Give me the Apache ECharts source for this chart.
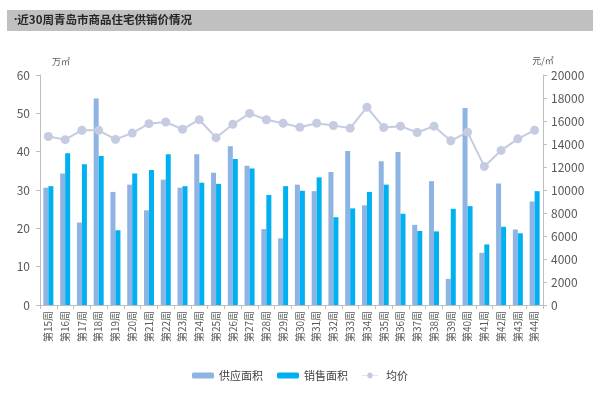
<!DOCTYPE html>
<html><head><meta charset="utf-8">
<script src="https://cdn.jsdelivr.net/npm/echarts@6/dist/echarts.min.js"></script>
<style>html,body{margin:0;padding:0;background:#fff}#c{width:600px;height:394px}</style>
</head><body><div id="c"></div>
<script>
var weeks = [15,16,17,18,19,20,21,22,23,24,25,26,27,28,29,30,31,32,33,34,35,36,37,38,39,40,41,42,43,44];
var categories = weeks.map(function(w){return '第' + w + '周';});
var supply = [30.6,34.3,21.5,53.9,29.5,31.4,24.7,32.7,30.6,39.3,34.5,41.4,36.3,19.8,17.4,31.4,29.7,34.7,40.2,26.0,37.5,39.9,20.9,32.3,6.8,51.4,13.6,31.7,19.7,27.0];
var sales = [31.0,39.6,36.7,38.9,19.5,34.3,35.2,39.3,31.0,31.9,31.6,38.1,35.6,28.7,31.0,29.8,33.3,22.9,25.2,29.5,31.4,23.8,19.3,19.2,25.1,25.8,15.8,20.4,18.7,29.7];
var price = [14650,14380,15200,15190,14400,14950,15770,15910,15280,16110,14550,15710,16660,16110,15800,15450,15810,15610,15380,17200,15430,15550,15000,15550,14280,15030,12050,13440,14450,15200];
var leftTicks = {min:0, max:60, interval:10};
var rightTicks = {min:0, max:20000, interval:2000};

var chart = echarts.init(document.getElementById('c'));
var axisCol = '#bfbfbf', labelCol = '#595959';
chart.setOption({
  animation:false,
  textStyle:{fontFamily:'"Noto Sans CJK SC", "Noto Sans", sans-serif'},
  graphic:[
    {type:'rect', shape:{x:7,y:10,width:586,height:21}, style:{fill:'#c0c0c0'}},
    {type:'text', left:14, top:14, style:{
      text:'{d|·}{t|近30周青岛市商品住宅供销价情况}',
      rich:{
        d:{fill:'#262626', font:'bold 12px "Noto Sans", sans-serif'},
        t:{fill:'#262626', font:'bold 11.5px "Noto Sans CJK SC", sans-serif'}
      }}}
  ],
  grid:{left:40, right:57, top:75, bottom:89},
  legend:{
    bottom:8, left:'center', itemWidth:22, itemHeight:6, itemGap:14,
    textStyle:{color:'#404040', fontSize:11},
    data:[{name:'供应面积'},{name:'销售面积'},{name:'均价', icon:'path://M0,4 L8,4 A4,4 0 1,1 16,4 L24,4 L24,5 L16,5 A4,4 0 1,1 8,5 L0,5 Z', itemStyle:{color:'#c5cbe0'}}]
  },
  xAxis:{
    type:'category', data:categories,
    axisLine:{lineStyle:{color:axisCol}},
    axisTick:{show:true, alignWithLabel:false, length:4, lineStyle:{color:axisCol}},
    axisLabel:{rotate:90, color:labelCol, fontSize:10, interval:0, margin:6}
  },
  yAxis:[
    {type:'value', min:leftTicks.min, max:leftTicks.max, interval:leftTicks.interval,
     name:'万㎡', nameTextStyle:{color:labelCol, fontSize:9, padding:[0,0,0,42]}, nameGap:9,
     axisLine:{show:true, lineStyle:{color:axisCol}},
     axisTick:{show:true, length:4, lineStyle:{color:axisCol}},
     axisLabel:{color:labelCol, fontSize:12, margin:10},
     splitLine:{show:false}},
    {type:'value', min:rightTicks.min, max:rightTicks.max, interval:rightTicks.interval,
     name:'元/㎡', nameTextStyle:{color:labelCol, fontSize:9, padding:[0,0,0,0]}, nameGap:10,
     axisLine:{show:true, lineStyle:{color:axisCol}},
     axisTick:{show:true, length:4, lineStyle:{color:axisCol}},
     axisLabel:{color:labelCol, fontSize:12, margin:8, formatter:function(v){return String(v);}},
     splitLine:{show:false}}
  ],
  series:[
    {name:'供应面积', type:'bar', data:supply, barWidth:5, barGap:'0%', itemStyle:{color:'#8eb4e3'}},
    {name:'销售面积', type:'bar', data:sales, barWidth:5, itemStyle:{color:'#00b0f0'}},
    {name:'均价', type:'line', yAxisIndex:1, data:price, symbol:'circle', symbolSize:9,
     lineStyle:{color:'#c5cbe0', width:2}, itemStyle:{color:'#c5cbe0'}}
  ]
});
</script></body></html>
